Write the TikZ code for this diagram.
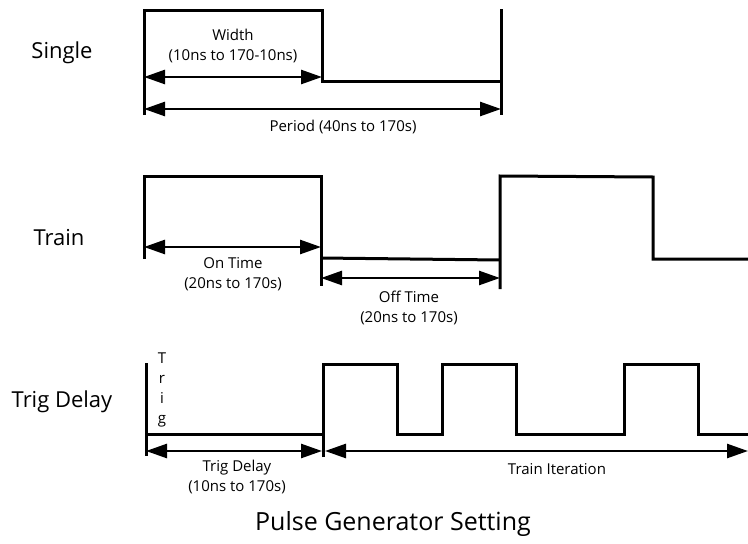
\documentclass[tikz,border=0pt]{standalone}
\usepackage{fontspec}
\setmainfont{Open Sans}
\usepackage{tikz}
\usetikzlibrary{arrows.meta}
\definecolor{waveblack}{RGB}{0,0,0}

\tikzset{
    wave/.style={line width=3pt,draw=waveblack},
    dimarrow/.style={line width=2.6pt,draw=waveblack,
        {Triangle[length=21pt 0,width=14pt 0]}-{Triangle[length=21pt 0,width=14pt 0]}},
    lbl/.style={font=\fontsize{15}{19.5}\selectfont,align=center,inner sep=0pt},
    rowlbl/.style={font=\fontsize{22}{24}\selectfont,inner sep=0pt},
}

\begin{document}
\begin{tikzpicture}[x=1pt,y=-1pt]
    \useasboundingbox (0,0) rectangle (748,544);

    % Single
    \node[rowlbl] (single) at (62,53) {Single};
    \draw[wave] (144,115) -- (144,10) -- (322,10) -- (322,81) -- (501,81);
    \draw[wave] (501,9) -- (501,115);
    \coordinate (wl) at (144,77);
    \coordinate (wr) at (322,77);
    \coordinate (pl) at (144,109);
    \coordinate (pr) at (501,109);
    \draw[dimarrow] (wl) -- (wr);
    \draw[dimarrow] (pl) -- (pr);
    \node[lbl] (width) at (233,46) {Width\\(10ns to 170-10ns)};
    \node[lbl] (period) at (343,127) {Period (40ns to 170s)};

    % Train
    \node[rowlbl] (train) at (59,238) {Train};
    \draw[wave] (144,259) -- (144,176) -- (321,176) -- (321,286);
    \draw[wave] (321,258) -- (500,260);
    \draw[wave] (500,289) -- (500,176) -- (653,177) -- (653,259) -- (748,259);
    \coordinate (onl) at (144,247);
    \coordinate (onr) at (321,247);
    \coordinate (offl) at (321,278);
    \coordinate (offr) at (500,278);
    \draw[dimarrow] (onl) -- (onr);
    \draw[dimarrow] (offl) -- (offr);
    \node[lbl] (ontime) at (233,274) {On Time\\(20ns to 170s)};
    \node[lbl] (offtime) at (409,308) {Off Time\\(20ns to 170s)};

    % Trig Delay
    \node[rowlbl] (trigdelay) at (62,402) {Trig Delay};
    \draw[wave] (146,363) -- (146,456);
    \draw[wave] (146,434) -- (323,434);
    \draw[wave] (323,457) -- (323,364) -- (397,364) -- (397,434) -- (442,434)
        -- (442,364) -- (516,364) -- (516,434) -- (624,434) -- (624,364)
        -- (698,364) -- (698,434) -- (748,434);
    \node[lbl,font=\fontsize{15}{20}\selectfont] (trig) at (162,390) {T\\r\\i\\g};
    \coordinate (tdl) at (146,451);
    \coordinate (tdr) at (322,451);
    \coordinate (til) at (325,451);
    \coordinate (tir) at (748,451);
    \draw[dimarrow] (tdl) -- (tdr);
    \draw[dimarrow] (til) -- (tir);
    \node[lbl] (tdtext) at (237,477) {Trig Delay\\(10ns to 170s)};
    \node[lbl] (titext) at (557,469) {Train Iteration};

    % Title
    \node[font=\fontsize{25}{28}\selectfont] (title) at (393,524) {Pulse Generator Setting};
\end{tikzpicture}
\end{document}
